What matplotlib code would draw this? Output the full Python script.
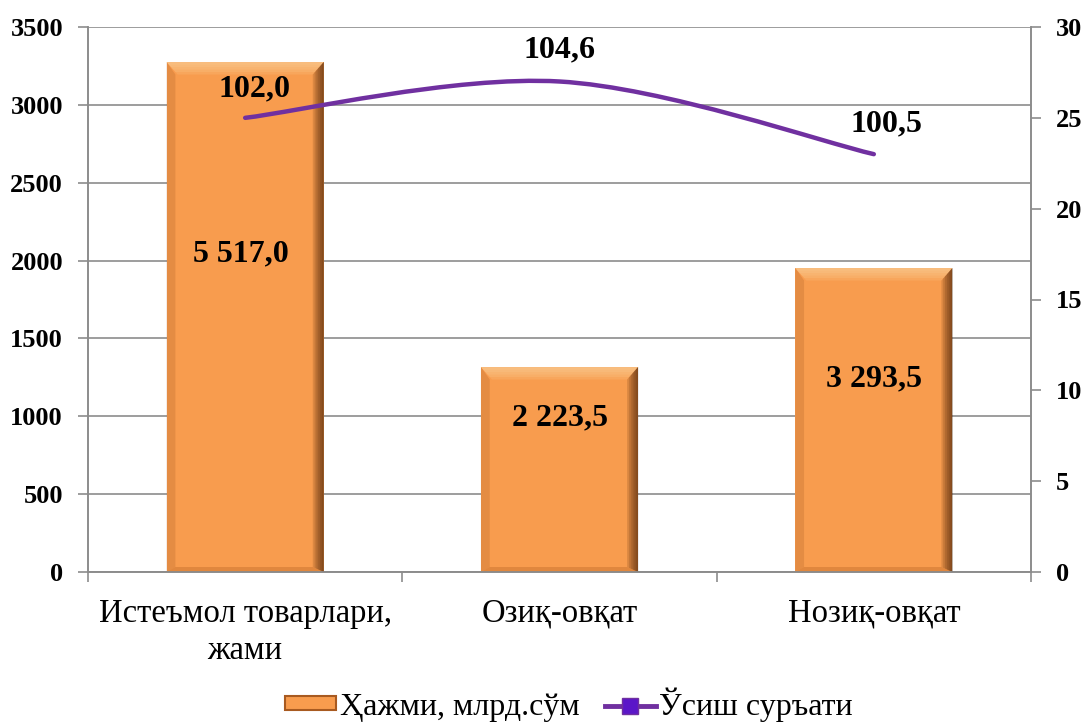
import matplotlib.pyplot as plt
from matplotlib.patches import Polygon, Rectangle
from matplotlib.path import Path
from matplotlib.patches import PathPatch
from matplotlib.lines import Line2D

plt.rcParams['font.family'] = ['Liberation Serif', 'DejaVu Serif']

categories = ['Истеъмол товарлари,\nжами', 'Озиқ-овқат', 'Нозиқ-овқат']
volume = [3275, 1316, 1952]                       # bar heights
volume_labels = ['5 517,0', '2 223,5', '3 293,5']
growth = [25.0, 27.0, 23.0]                        # line
growth_labels = ['102,0', '104,6', '100,5']
legend_labels = ['Ҳажми, млрд.сўм', 'Ўсиш суръати']

# label placement (layout only)
vol_label_dx = [-0.015, 0.0, 0.0]
vol_label_y = [2040, 990, 1240]
growth_label_dx = [0.03, 0.0, 0.04]
growth_label_dy = [1.6, 1.72, 1.65]

bar_color = '#F89C4E'
line_color = '#7030A0'
grid_color = '#8C8C8C'

fig = plt.figure(figsize=(10.86, 7.22), dpi=100)
ax = fig.add_axes([88 / 1086, 1 - 572 / 722, (1031 - 88) / 1086, (572 - 27) / 722])
ax2 = ax.twinx()

x = list(range(len(categories)))
bars = ax.bar(x, volume, width=0.5, color=bar_color, zorder=2)

# crude bevel on each bar
bx, by = 0.035, 80
for b in bars:
    x0, w, h = b.get_x(), b.get_width(), b.get_height()
    x1 = x0 + w
    for i in range(5):
        f = (i + 1) / 5
        ax.add_patch(Polygon([(x0, h), (x1, h), (x1 - bx * f, h - by * f), (x0 + bx * f, h - by * f)],
                             closed=True, color='#FDD49E', alpha=0.18, lw=0, zorder=3))
    for i in range(6):
        f = (6 - i) / 6
        ax.add_patch(Polygon([(x1 - bx * f, h - by * f), (x1, h), (x1, 0),
                              (x1 - bx * f, by * 0.4 * f)],
                             closed=True, color='#4A2408', alpha=0.16, lw=0, zorder=3))
    ax.add_patch(Polygon([(x0, h), (x0 + bx * 0.8, h - by), (x0 + bx * 0.8, by * 0.4), (x0, 0)],
                         closed=True, color='#B8672A', alpha=0.3, lw=0, zorder=3))
    ax.add_patch(Polygon([(x0, 0), (x1, 0), (x1 - bx, by * 0.4), (x0 + bx * 0.8, by * 0.4)],
                         closed=True, color='#C46E2C', alpha=0.45, lw=0, zorder=3))

for xi, lbl, dx, yl in zip(x, volume_labels, vol_label_dx, vol_label_y):
    ax.text(xi + dx, yl, lbl, ha='center', va='center', fontsize=23, fontweight='bold', zorder=5)

ax.set_xlim(-0.5, 2.5)
ax.set_ylim(0, 3500)
ax.set_yticks(range(0, 3501, 500))
ax.yaxis.grid(True, color=grid_color, lw=1.2, zorder=0)
ax.set_axisbelow(True)
ax.set_xticks(x)
ax.set_xticklabels(categories, fontsize=23.5, linespacing=1.28)
ax.set_xticks([-0.5, 0.5, 1.5, 2.5], minor=True)
ax.tick_params(axis='x', which='major', length=0, pad=19)
ax.tick_params(axis='x', which='minor', length=7, color=grid_color, width=1.2)
ax.tick_params(axis='y', length=7, color=grid_color, width=1.2, pad=11, labelsize=19)
for t in ax.get_yticklabels():
    t.set_fontweight('bold')

for s in ['top']:
    ax.spines[s].set_visible(False)
    ax2.spines[s].set_visible(False)
for s in ['left', 'bottom', 'right']:
    ax.spines[s].set_color(grid_color)
    ax.spines[s].set_linewidth(1.2)
    ax2.spines[s].set_color(grid_color)
    ax2.spines[s].set_linewidth(1.2)

# smoothed line (Catmull-Rom through the points, as Excel does)
pts = list(zip(x, growth))
ext = [pts[0]] + pts + [pts[-1]]
verts = [pts[0]]
codes = [Path.MOVETO]
for i in range(1, len(ext) - 2):
    p0, p1, p2, p3 = ext[i - 1], ext[i], ext[i + 1], ext[i + 2]
    c1 = (p1[0] + (p2[0] - p0[0]) / 6, p1[1] + (p2[1] - p0[1]) / 6)
    c2 = (p2[0] - (p3[0] - p1[0]) / 6, p2[1] - (p3[1] - p1[1]) / 6)
    verts += [c1, c2, p2]
    codes += [Path.CURVE4] * 3
ax2.add_patch(PathPatch(Path(verts, codes), fill=False, edgecolor=line_color,
                        lw=3.2, capstyle='round', zorder=4))

for xi, yi, lbl, dx, dy in zip(x, growth, growth_labels, growth_label_dx, growth_label_dy):
    ax2.text(xi + dx, yi + dy, lbl, ha='center', va='center', fontsize=23, fontweight='bold')

ax2.set_ylim(0, 30)
ax2.set_yticks(range(0, 31, 5))
ax2.tick_params(axis='y', length=7, color=grid_color, width=1.2, pad=11, labelsize=19)
for t in ax2.get_yticklabels():
    t.set_fontweight('bold')

handles = [Rectangle((0, 0), 1, 1, facecolor=bar_color, edgecolor='#A85A20', lw=1.5),
           Line2D([0], [0], color=line_color, lw=3.5, marker='s', markersize=12,
                  markerfacecolor='#5B16C8', markeredgecolor=line_color)]
fig.legend(handles, legend_labels, loc='center', bbox_to_anchor=(569 / 1086, 0.024),
           ncol=2, frameon=False, fontsize=23, handlelength=1.6, handleheight=0.3,
           handletextpad=0.1, columnspacing=0.8)

fig.savefig('out.png', dpi=100)
